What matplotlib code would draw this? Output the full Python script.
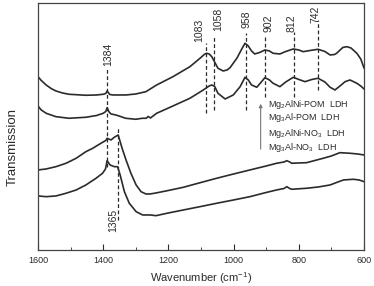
import matplotlib
matplotlib.use("Agg")
import matplotlib.pyplot as plt

plt.rcParams['font.family'] = ['Liberation Sans', 'DejaVu Sans']
plt.rcParams['mathtext.default'] = 'regular'

# spectra (wavenumber, transmission in arbitrary units)
w_alni_pom = [1600, 1590, 1575, 1560, 1545, 1525, 1505, 1453, 1420, 1400, 1392, 1388,
              1380, 1370, 1330, 1300, 1269, 1236, 1186, 1134, 1103, 1090, 1083, 1075,
              1067, 1048, 1032, 1020, 1011, 990, 975, 965, 955, 945, 935, 920, 904,
              890, 879, 858, 840, 817, 800, 787, 765, 741, 720, 704, 690, 684, 665,
              653, 640, 622, 610, 600]
t_alni_pom = [173.3, 169.5, 165, 161.5, 159, 157, 155.7, 154.7, 155, 155.7, 156.5, 159,
              155.5, 155, 155, 156, 158.3, 165, 173.3, 183.3, 191.7, 195.5, 196.7, 196,
              193.3, 181.7, 179, 180, 182.3, 191.7, 201, 206.7, 204, 199, 196, 197.5, 200,
              199, 196.7, 196, 198.5, 201, 200, 198.3, 199.5, 200.7, 198.5, 195, 195.5,
              196.7, 202.5, 203.3, 202, 196.7, 191, 182]

w_al_pom = [1600, 1590, 1575, 1545, 1505, 1453, 1420, 1400, 1392, 1388, 1382, 1376,
            1361, 1331, 1300, 1280, 1268, 1262, 1255, 1236, 1186, 1134, 1093, 1075,
            1067, 1058, 1048, 1026, 1001, 980, 965, 955, 945, 929, 915, 904, 890, 879,
            858, 840, 817, 800, 781, 760, 741, 720, 704, 689, 670, 658, 643, 622, 610, 600]
t_al_pom = [144, 140, 136.7, 133.3, 131.7, 132.7, 134.5, 136.7, 138.5, 142.3, 138, 136,
            135, 131.7, 130.7, 131.7, 131.7, 133.5, 132, 136.7, 144, 151.7, 160, 164,
            165, 163.5, 156.7, 151, 155, 163.3, 172.7, 170, 165, 162.7, 168, 172.3, 170,
            166.7, 163.3, 168, 172.7, 170.5, 168.3, 170.5, 171.7, 168, 162.7, 160, 165,
            168.3, 170, 166.7, 164, 161]

w_alni_no3 = [1600, 1575, 1545, 1514, 1483, 1453, 1432, 1407, 1392, 1388, 1376, 1366,
              1354, 1342, 1330, 1315, 1299, 1284, 1269, 1256, 1238, 1200, 1154, 1100,
              1052, 1000, 950, 900, 868, 845, 837, 828, 822, 800, 776, 725, 700, 674,
              643, 620, 600]
t_alni_no3 = [80, 81, 83.3, 86.7, 91.7, 98.3, 101.7, 106.7, 109.5, 111.7, 110, 112.7,
              115, 101.7, 90, 76.7, 65, 58.3, 56, 56, 57, 59.5, 62.7, 67.5,
              71.7, 76, 80, 84, 86.7, 88, 89.3, 88, 86.7, 87, 87.3, 91.7, 94, 97.3,
              96.7, 96, 95]

w_al_no3 = [1600, 1575, 1545, 1514, 1483, 1453, 1422, 1402, 1393, 1388, 1379, 1366,
            1356, 1348, 1335, 1320, 1299, 1279, 1256, 1238, 1200, 1154, 1100, 1052,
            1000, 950, 900, 868, 845, 837, 828, 822, 776, 740, 704, 680, 663, 633, 615, 600]
t_al_no3 = [54, 53.3, 54, 56.7, 60, 65, 71.7, 76.7, 81, 89.3, 85, 83.3,
            83.3, 75, 58.3, 46.7, 38.3, 35, 35, 34.3, 37, 40, 43.5, 46.7,
            50, 53.3, 57.5, 60, 61.5, 63.3, 61.5, 60.7, 61.7, 63, 65, 68, 70, 70.7, 70, 68.3]

# band markers: label, line position, line top/bottom, label position
band_labels = ['1384', '1365', '1083', '1058', '958', '902', '812', '742']
band_pos = [1387, 1355, 1085, 1060, 963, 904, 815, 741]
band_top = [182, 123, 207, 215, 217, 215, 218, 230]
band_bottom = [83, 30, 137, 140, 140, 153, 153, 160]
label_x = [1386, 1370, 1106, 1046, 960, 894, 822, 750]
label_y = [196, 30, 220, 231, 231, 227, 227, 236]

names = ['Mg$_2$AlNi-POM  LDH', 'Mg$_3$Al-POM  LDH',
         'Mg$_2$AlNi-NO$_3$  LDH', 'Mg$_3$Al-NO$_3$  LDH']
name_y = [145, 132, 116, 102]

fig = plt.figure(figsize=(3.74, 2.86), dpi=100)
ax = fig.add_axes([0.1016, 0.126, 0.8717, 0.8636])

col = '#2b2b2b'
for w, t in [(w_alni_pom, t_alni_pom), (w_al_pom, t_al_pom),
             (w_alni_no3, t_alni_no3), (w_al_no3, t_al_no3)]:
    ax.plot(w, t, color=col, lw=1.2, solid_joinstyle='round')

for i in range(len(band_labels)):
    ax.plot([band_pos[i], band_pos[i]], [band_bottom[i], band_top[i]],
            color=col, lw=0.9, ls=(0, (3, 2)))
    ax.text(label_x[i], label_y[i], band_labels[i], rotation=90,
            ha='center', va='center', fontsize=7.5, color=col)

for n, y in zip(names, name_y):
    ax.text(894, y, n, ha='left', va='center', fontsize=6.5, color=col)

# arrow pointing up through the sample list
ax.annotate('', xy=(917, 149), xytext=(917, 98),
            arrowprops=dict(arrowstyle='-|>', color='#777777', lw=0.8,
                            mutation_scale=5))

ax.set_xlim(1600, 600)
ax.set_ylim(0, 247)
ax.set_xticks([1600, 1400, 1200, 1000, 800, 600])
ax.set_xticks([1500, 1300, 1100, 900, 700], minor=True)
ax.set_yticks([])
ax.tick_params(axis='x', which='both', direction='in', labelsize=6.5,
               colors=col, pad=4)
ax.tick_params(axis='x', which='major', length=4)
ax.tick_params(axis='x', which='minor', length=2.5)
for s in ax.spines.values():
    s.set_color('#444444')
    s.set_linewidth(0.9)

ax.set_xlabel('Wavenumber (cm$^{-1}$)', fontsize=8, color=col, labelpad=4)
ax.set_ylabel('Transmission', fontsize=9.5, color=col)
ax.yaxis.set_label_coords(-0.06, 0.417)

fig.savefig('out.png', dpi=100)
